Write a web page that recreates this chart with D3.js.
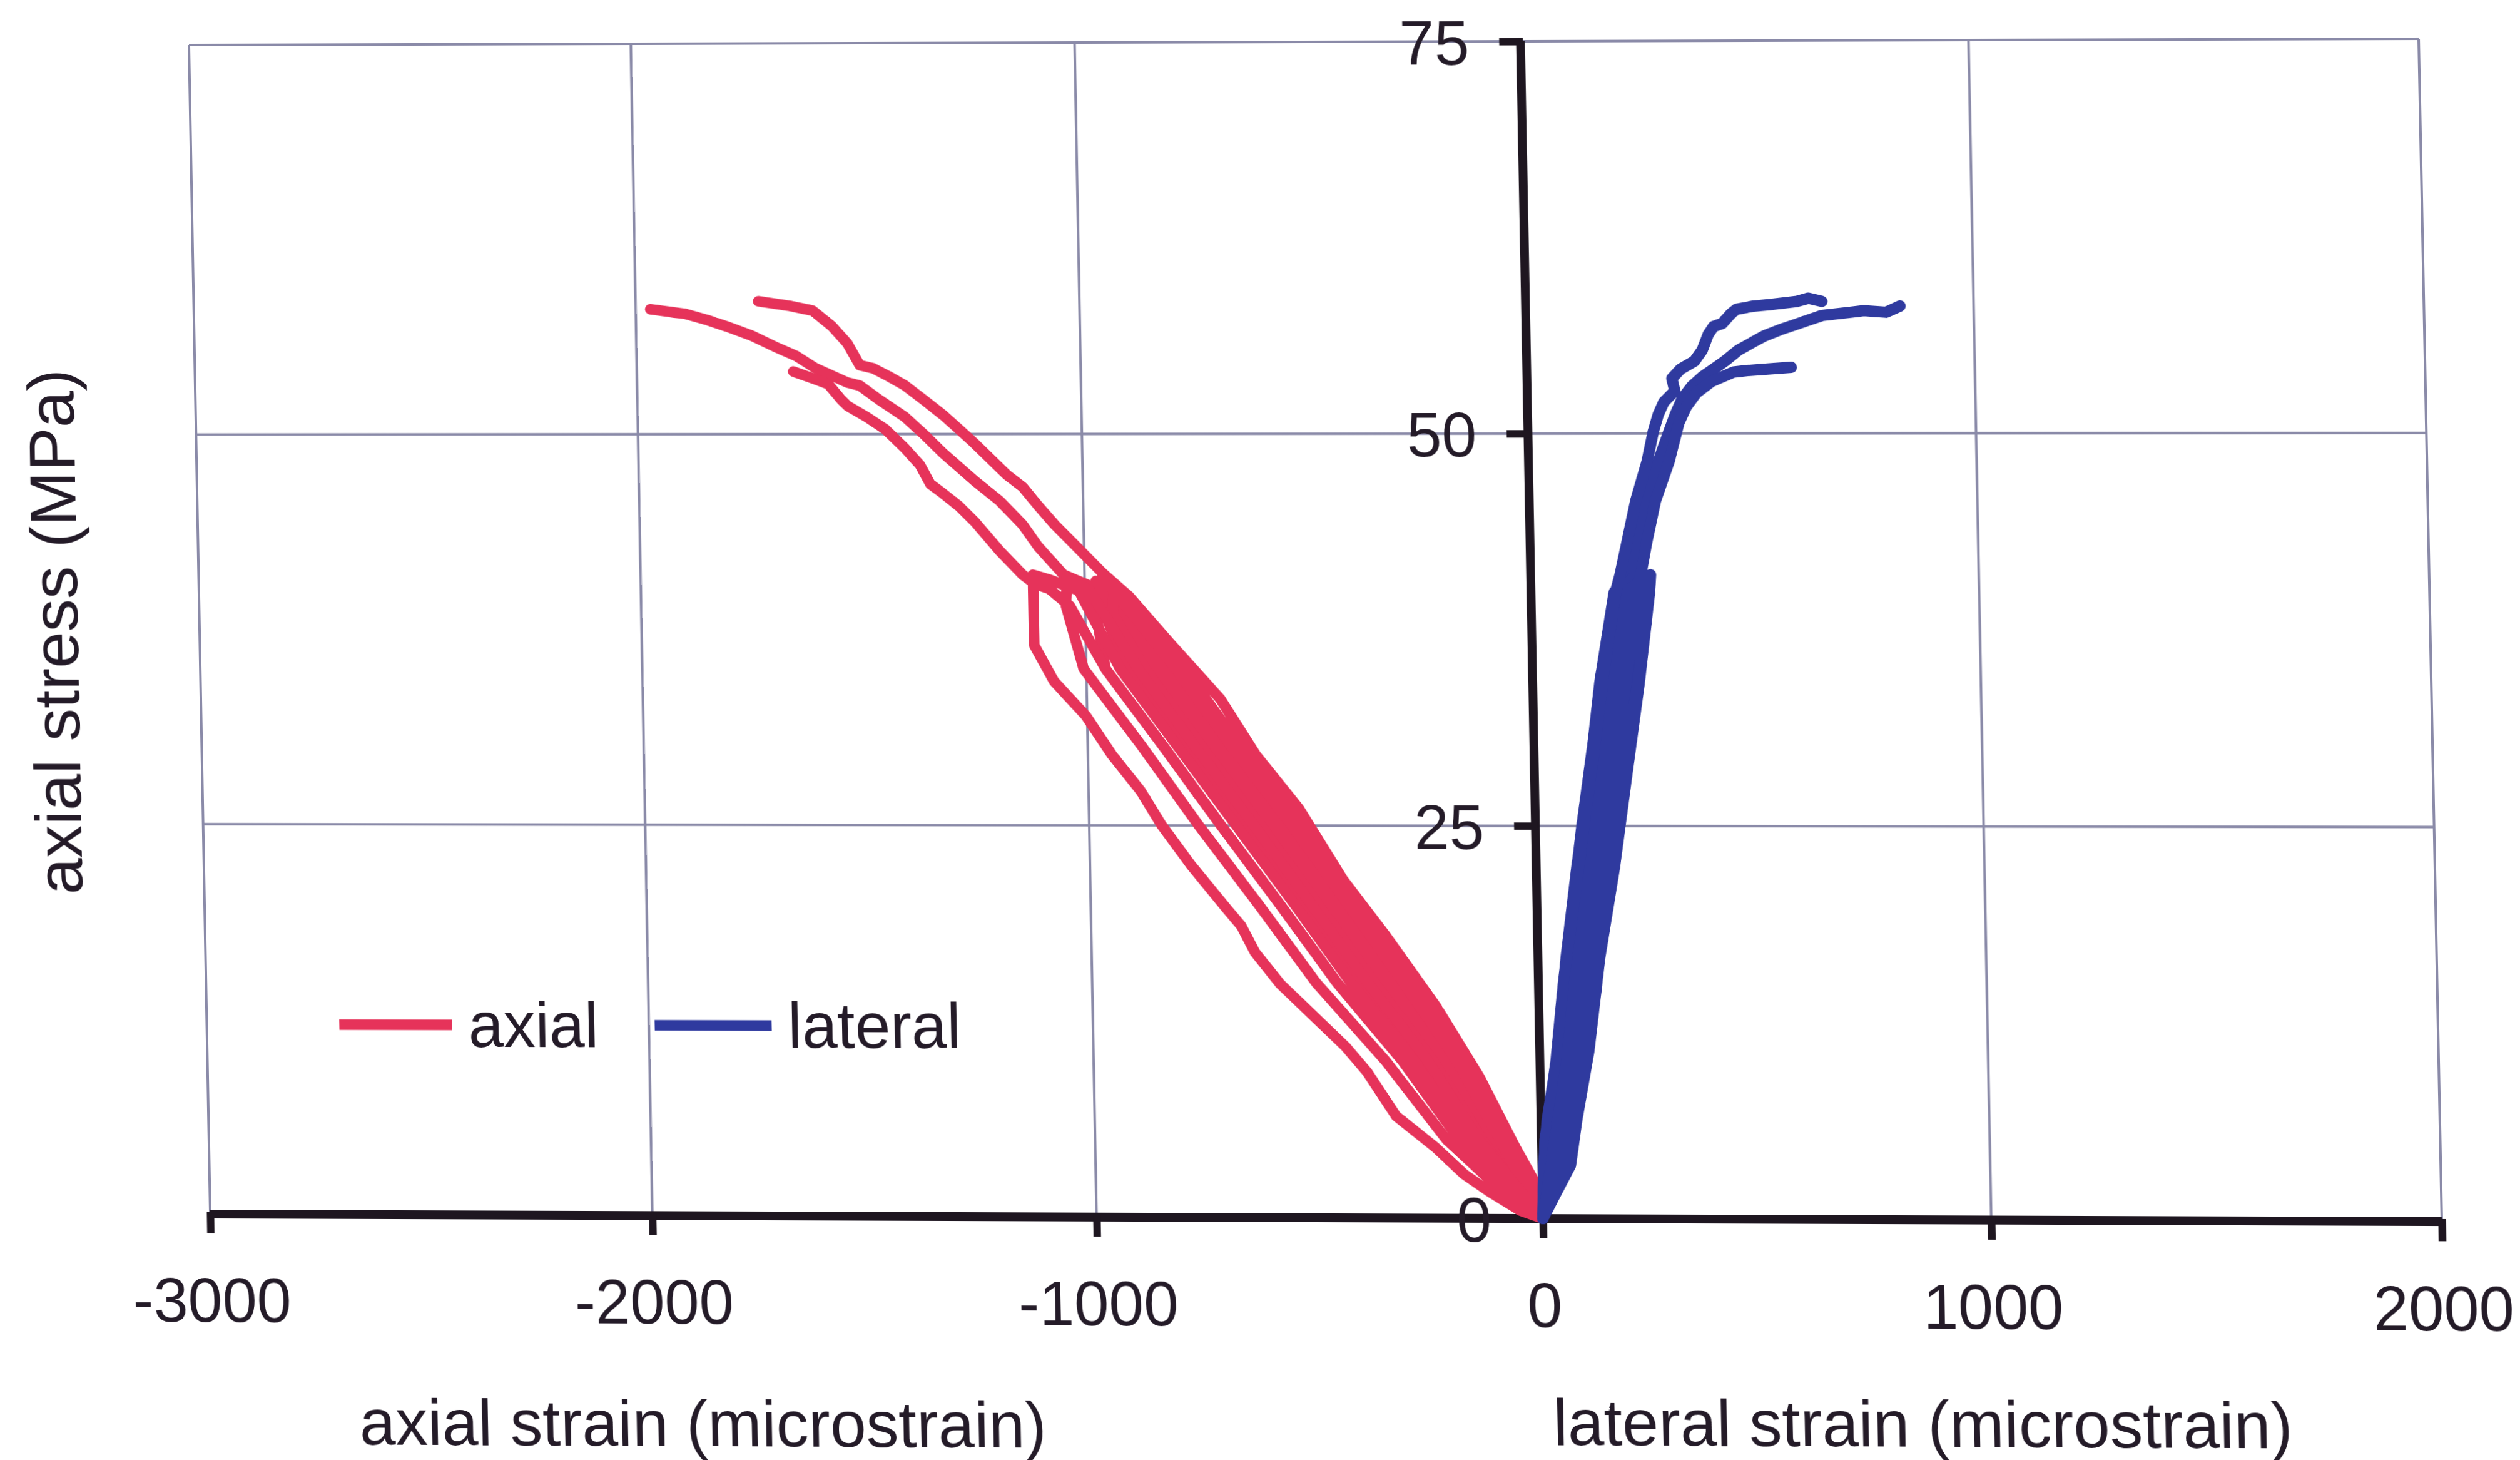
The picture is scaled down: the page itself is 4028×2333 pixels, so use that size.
<!DOCTYPE html>
<html>
<head>
<meta charset="utf-8">
<script src="https://cdn.jsdelivr.net/npm/d3@7"></script>
<style>
  html, body { margin: 0; padding: 0; background: #ffffff; overflow: hidden; }
  #chart { position: absolute; left: 0; top: 0; transform-origin: 0 0; }
  #chart text { font-family: "Liberation Sans", Arial, Helvetica, sans-serif; fill: #241b28; }
</style>
</head>
<body>
<svg id="chart" width="4028" height="2333"></svg>
<script>
// ---- axis ticks ----
const xTicks = [-3000, -2000, -1000, 0, 1000, 2000];
const yTicks = [0, 25, 50, 75];

// ---- legend / series names ----
const seriesNames = ["axial", "lateral"];

// ---- axial strain vs axial stress, three specimens (microstrain, MPa) ----
// each trace holds the load/unload cycles followed by the final loading run
const axialA = [
  [0,0],[-104,5],[-201,10],[-321,15],[-442,20],[-565,25],[-695,30],[-819,35],[-949,40],[-975,40.6],
  [-978,39],[-957,35],[-829,30],[-704,25],[-576,20],[-451,15],[-307,10],[-183,5],[-60,1.2],[0,0],
  [-117,5],[-218,10],[-343,15],[-465,20],[-588,25],[-718,30],[-842,35],[-963,40],[-1047,41.0],
  [-1103,42.8],[-1137,44.2],[-1187,45.7],[-1243,47.0],[-1314,48.8],[-1356,50.0],[-1398,51.1],
  [-1455,52.2],[-1498,53.1],[-1526,53.3],[-1596,54.2],[-1640,55.0],[-1688,55.6],[-1739,56.3],
  [-1796,56.9],[-1838,57.3],[-1888,57.7],[-1967,58.0]
];
const axialB = [
  [0,0],[-81,5],[-170,10],[-284,15],[-404,20],[-525,25],[-657,30],[-780,35],[-924,40],[-935,40.5],
  [-938,38.5],[-868,35],[-743,30],[-615,25],[-490,20],[-367,15],[-238,10],[-132,5],[-40,1.2],[0,0],
  [-93,5],[-185,10],[-302,15],[-423,20],[-545,25],[-676,30],[-799,35],[-936,40],[-960,41],
  [-963,39],[-908,35],[-782,30],[-654,25],[-528,20],[-405,15],[-269,10],[-155,5],[-50,1.2],[0,0],
  [-20,2.5],[-58,4.5],[-136,9.0],[-230,13.5],[-340,18.0],[-434,21.6],[-529,26.1],[-623,29.5],
  [-701,33.1],[-813,36.7],[-900,39.6],[-959,41.1],[-1017,42.8],[-1065,44.2],[-1101,45.4],
  [-1135,46.6],[-1171,47.4],[-1242,49.4],[-1276,50.3],[-1311,51.2],[-1355,52.2],[-1396,53.1],
  [-1433,53.7],[-1467,54.2],[-1497,54.4],[-1524,55.8],[-1558,56.9],[-1601,57.9],[-1652,58.2],[-1723,58.5]
];
const axialC = [
  [0,0],[-140,5],[-250,10],[-382,15],[-505,20],[-630,25],[-758,30],[-884,35],[-989,40],[-1040,40.8],
  [-1043,39],[-1006,35],[-877,30],[-754,25],[-624,20],[-498,15],[-345,10],[-212,5],[-70,1.2],[0,0],
  [-164,5],[-281,10],[-420,15],[-543,20],[-670,25],[-797,30],[-924,35],[-1014,40],[-1080,40.7],[-1116,41],
  [-1116,36.5],[-1073,34.2],[-1003,32.0],[-946,29.5],[-883,27.2],[-837,25.0],[-774,22.5],[-695,19.7],
  [-663,18.6],[-633,16.9],[-578,14.9],[-506,12.9],[-434,10.9],[-387,9.3],[-324,6.5],[-237,4.5],
  [-174,2.8],[-118,1.7],[-50,0.5],[0,0],
  [-183,5],[-307,10],[-451,15],[-576,20],[-704,25],[-829,30],[-957,35],[-1034,39],[-1080,40.1],
  [-1111,40.4],[-1139,41.0],[-1189,42.5],[-1245,44.4],[-1280,45.4],[-1315,46.2],[-1343,46.8],
  [-1365,48.0],[-1399,49.1],[-1442,50.3],[-1484,51.1],[-1526,51.8],[-1540,52.2],[-1569,53.2],
  [-1597,53.5],[-1647,54.0]
];

// ---- lateral strain vs axial stress, same three specimens ----
const lateralA = [
  [0,0],[21,5],[50,10],[71,15],[96,20],[121,25],[148,30],[173,35],[205,40],[240,40.8],
  [238,38.5],[226,35],[198,30],[172,25],[144,20],[116,15],[91,10],[59,5],[18,1.2],[0,0],
  [30,5],[60,10],[81,15],[108,20],[134,25],[161,30],[186,35],[216,40],[239,43.1],[260,45.7],
  [290,48.2],[315,50.1],[330,51.2],[346,52.2],[368,53.0],[392,53.6],[418,54.1],[443,54.6],
  [474,55.3],[506,55.8],[532,56.2],[568,56.6],[600,56.9],[631,57.2],[662,57.5],[725,57.7],
  [755,57.8],[805,57.7],[836,58.1]
];
const lateralB = [
  [0,0],[4,3.4],[14,6.3],[41,10.7],[63,16.6],[91,22.4],[123,28.2],[150,34.1],[186,39.9],[215,40.5],
  [212,38.5],[200,35],[174,30],[147,25],[120,20],[94,15],[71,10],[40,5],[12,1.2],[0,0],
  [21,5],[50,10],[71,15],[96,20],[121,25],[148,30],[173,35],[205,40],[228,40.8],
  [226,38.5],[213,35],[186,30],[159,25],[132,20],[104,15],[81,10],[50,5],[15,1.2],[0,0],
  [8,5],[36,10],[56,15],[80,20],[104,25],[131,30],[156,35],[190,40],[200,41],[217,43.1],[238,45.7],
  [265,48.2],[280,50.1],[292,51.2],[305,52.0],[330,52.7],[324,53.5],[344,54.1],[375,54.6],
  [393,55.3],[407,56.3],[419,56.8],[439,57.0],[458,57.6],[471,57.9],[509,58.1],[546,58.2],
  [607,58.4],[632,58.6],[662,58.4]
];
const lateralC = [
  [0,0],[30,5],[60,10],[81,15],[108,20],[134,25],[161,30],[186,35],[216,40],[268,41],
  [265,39.9],[238,34.1],[206,28.2],[175,22.4],[138,16.6],[110,10.7],[80,6.3],[64,3.4],[26,1.4],[0,0],
  [40,5],[71,10],[94,15],[120,20],[147,25],[174,30],[200,35],[228,40],[255,40.8],
  [252,38.5],[240,35],[210,30],[183,25],[155,20],[127,15],[98,10],[66,5],[20,1.2],[0,0],
  [50,5],[81,10],[104,15],[132,20],[159,25],[186,30],[213,35],[239,40],[261,43.1],[282,45.7],
  [314,48.2],[338,50.7],[355,51.7],[379,52.6],[412,53.3],[437,53.6],[462,53.9],[493,54.0],
  [543,54.1],[591,54.2]
];

// ---- layout ----
const COL_AXIAL = "#e6335a";
const COL_LATERAL = "#2f3a9f";
const COL_AXIS = "#1e1620";
const COL_GRID = "#8a8aa8";

const plot = { left: 303, top: 72, right: 3866, bottom: 1940 };

const x = d3.scaleLinear().domain([-3000, 2000]).range([plot.left, plot.right]);
const y = d3.scaleLinear().domain([0, 75]).range([plot.bottom, plot.top]);

const svg = d3.select("#chart");

// gridlines and frame
const grid = svg.append("g").attr("stroke", COL_GRID).attr("stroke-width", 4).attr("fill", "none");
grid.selectAll("line.h").data(yTicks.filter(d => d > 0)).join("line")
  .attr("class", "h")
  .attr("x1", x(-3000)).attr("x2", x(2000))
  .attr("y1", d => y(d)).attr("y2", d => y(d));
grid.selectAll("line.v").data(xTicks.filter(d => d !== 0)).join("line")
  .attr("class", "v")
  .attr("x1", d => x(d)).attr("x2", d => x(d))
  .attr("y1", y(0)).attr("y2", y(75));

// axes
const fmt = d => String(d);
const xAxis = svg.append("g")
  .attr("transform", `translate(0,${y(0)})`)
  .call(d3.axisBottom(x).tickValues(xTicks).tickSize(31).tickSizeOuter(0).tickFormat(fmt));
xAxis.select(".domain").attr("stroke", COL_AXIS).attr("stroke-width", 14).attr("d", `M${x(-3000)},0H${x(2000)}`);
xAxis.selectAll(".tick line").attr("stroke", COL_AXIS).attr("stroke-width", 12).attr("y1", -4);
xAxis.selectAll(".tick text")
  .attr("y", 172).attr("dy", 0)
  .attr("font-size", 100).attr("fill", "#241b28");

const yAxis = svg.append("g")
  .attr("transform", `translate(${x(0)},0)`)
  .call(d3.axisLeft(y).tickValues(yTicks).tickSize(34).tickSizeOuter(0).tickFormat(fmt));
yAxis.select(".domain").attr("stroke", COL_AXIS).attr("stroke-width", 14).attr("d", `M0,${y(0)}V${y(75)}`);
yAxis.selectAll(".tick line").attr("stroke", COL_AXIS).attr("stroke-width", 12).attr("x1", 4);
yAxis.selectAll(".tick text")
  .attr("x", -82).attr("dy", "0.36em")
  .attr("font-size", 100).attr("fill", "#241b28");
svg.selectAll(".tick text").style("font-family", '"Liberation Sans", Arial, sans-serif');

// series
const line = d3.line().x(d => x(d[0])).y(d => y(d[1]));
const series = svg.append("g").attr("fill", "none")
  .attr("stroke-linejoin", "round").attr("stroke-linecap", "round");
series.selectAll("path.axial").data([axialA, axialB, axialC]).join("path")
  .attr("class", "axial").attr("stroke", COL_AXIAL).attr("stroke-width", 17).attr("d", line);
series.selectAll("path.lateral").data([lateralA, lateralB, lateralC]).join("path")
  .attr("class", "lateral").attr("stroke", COL_LATERAL).attr("stroke-width", 18).attr("d", line);

// axis titles
svg.append("text").attr("x", 538).attr("y", 2307).attr("font-size", 104)
  .text("axial strain (microstrain)");
svg.append("text").attr("x", 2451).attr("y", 2299).attr("font-size", 104)
  .text("lateral strain (microstrain)");
svg.append("text").attr("transform", "translate(106,1010) rotate(-90)")
  .attr("text-anchor", "middle").attr("font-size", 105)
  .text("axial stress (MPa)");

// legend
const legend = [
  { name: seriesNames[0], color: COL_AXIAL, x0: 517, x1: 699, tx: 725 },
  { name: seriesNames[1], color: COL_LATERAL, x0: 1025, x1: 1213, tx: 1239 }
];
const lg = svg.append("g");
lg.selectAll("line").data(legend).join("line")
  .attr("x1", d => d.x0).attr("x2", d => d.x1).attr("y1", 1637).attr("y2", 1637)
  .attr("stroke", d => d.color).attr("stroke-width", 17);
lg.selectAll("text").data(legend).join("text")
  .attr("x", d => d.tx).attr("y", 1672).attr("font-size", 102)
  .text(d => d.name);

// The sheet is printed with a slight perspective tilt: the four plot corners
// land at these page positions, and a projective transform carries the rest.
const cornersFrom = [[plot.left, plot.top], [plot.right, plot.top], [plot.left, plot.bottom], [plot.right, plot.bottom]];
const cornersTo = [[302, 72], [3866, 62], [336, 1940], [3903, 1952]];

function solveHomography(src, dst) {
  const A = [];
  for (let i = 0; i < 4; i++) {
    const [sx, sy] = src[i], [dx, dy] = dst[i];
    A.push([sx, sy, 1, 0, 0, 0, -dx * sx, -dx * sy, dx]);
    A.push([0, 0, 0, sx, sy, 1, -dy * sx, -dy * sy, dy]);
  }
  const n = 8;
  for (let c = 0; c < n; c++) {
    let p = c;
    for (let r = c + 1; r < n; r++) if (Math.abs(A[r][c]) > Math.abs(A[p][c])) p = r;
    [A[c], A[p]] = [A[p], A[c]];
    for (let r = 0; r < n; r++) {
      if (r === c) continue;
      const f = A[r][c] / A[c][c];
      for (let k = c; k <= n; k++) A[r][k] -= f * A[c][k];
    }
  }
  return A.map((row, i) => row[n] / row[i]);
}
const h = solveHomography(cornersFrom, cornersTo);
document.getElementById("chart").style.transform =
  `matrix3d(${h[0]},${h[3]},0,${h[6]},${h[1]},${h[4]},0,${h[7]},0,0,1,0,${h[2]},${h[5]},0,1)`;
</script>
</body>
</html>
